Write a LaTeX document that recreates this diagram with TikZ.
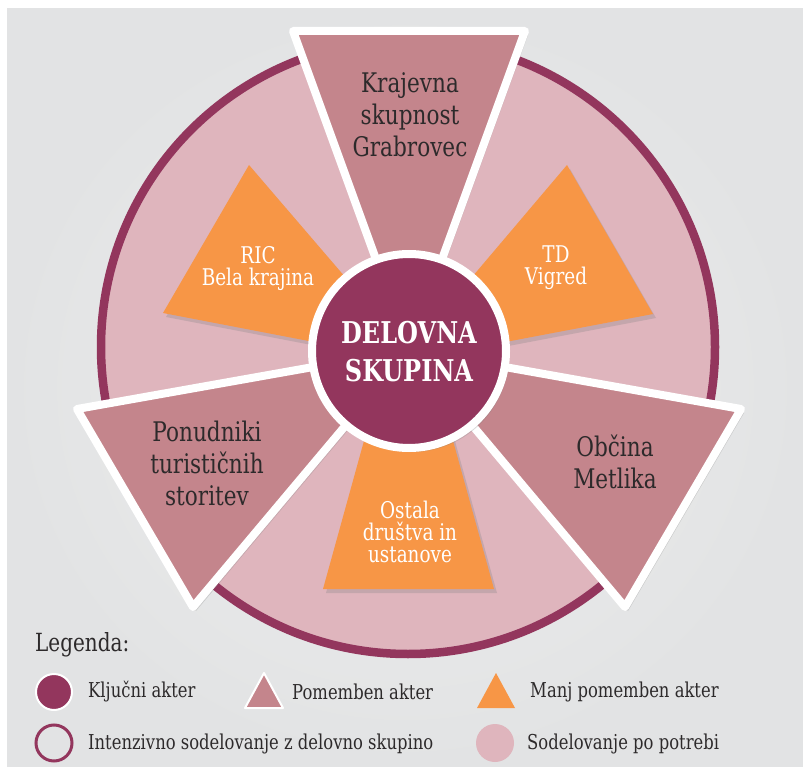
\documentclass[tikz,border=0pt]{standalone}
\usepackage{fontspec}
\setmainfont{DejaVu Serif}[FakeStretch=0.8]
\usetikzlibrary{shadows}
\definecolor{panelgray}{HTML}{E2E3E4}
\definecolor{panellight}{HTML}{EEEFEF}
\definecolor{keymaroon}{HTML}{93365D}
\definecolor{rosy}{HTML}{C4858C}
\definecolor{blush}{HTML}{DFB5BD}
\definecolor{tangerine}{HTML}{F79646}
\definecolor{ink}{HTML}{2D2A2B}
\tikzset{
  softshadow/.style={drop shadow={opacity=0.28, shadow xshift=3pt, shadow yshift=-4pt}},
  bigactor/.style={fill=rosy, draw=white, line width=8pt, line join=round, softshadow},
  smallactor/.style={fill=tangerine, draw=none, softshadow},
  bigtext/.style={font=\fontsize{27}{32}\selectfont, text=ink, align=center},
  smalltext/.style={font=\fontsize{23}{22}\selectfont, text=white, align=center},
  legendtext/.style={font=\fontsize{20.5}{24}\selectfont, text=ink, anchor=west},
}
\begin{document}
\begin{tikzpicture}[x=1pt,y=-1pt]
  \tikzstyle{every node}+=[inner sep=0pt]
  \useasboundingbox (0,0) rectangle (803,767);
  \fill [white] (0,0) rectangle (803,767);
  \shade [inner color=panellight, outer color=panelgray] (7,9) rectangle (803,767);
  % outer circle
  \draw [keymaroon, fill=blush, line width=8.5pt] (408,347) circle [radius=307pt];
  % less important actors
  \path [smallactor] (249,165) -- (163,313) -- (418,362) -- cycle;
  \path [smallactor] (567,165) -- (653,314) -- (400,362) -- cycle;
  \path [smallactor] (408.5,280) -- (494,589) -- (323,589) -- cycle;
  % important actors
  \draw [bigactor] (293,31) -- (525,31) -- (409,350) -- cycle;
  \draw [bigactor] (741,409) -- (625,607) -- (409,350) -- cycle;
  \draw [bigactor] (77,409) -- (193,607) -- (409,350) -- cycle;
  % key actor
  \draw [fill=keymaroon, draw=white, line width=8pt, softshadow] (409,351) circle [radius=97pt];
  \node (group) [font=\bfseries\fontsize{30}{38}\selectfont, text=white, align=center] at (409,352) {DELOVNA\\SKUPINA};
  \node (ks) [bigtext] at (410,115) {Krajevna\\skupnost\\Grabrovec};
  \node (providers) [bigtext] at (207,463) {Ponudniki\\turističnih\\storitev};
  \node (metlika) [bigtext] at (615,462) {Občina\\Metlika};
  \node (ric) [smalltext] at (258,269) {RIC\\Bela krajina};
  \node (td) [smalltext] at (556,268) {TD\\Vigred};
  \node (other) [smalltext] at (410,532) {Ostala\\društva in\\ustanove};
  % legend
  \node (legtitle) [legendtext, font=\fontsize{25}{28}\selectfont] at (35,645) {Legenda:};
  \draw [fill=keymaroon, draw=white, line width=2pt] (54,692) circle [radius=18pt];
  \node (keyone) [legendtext] at (88,692) {Ključni akter};
  \draw [fill=rosy, draw=white, line width=2pt, line join=round] (264,673) -- (283,708) -- (245,708) -- cycle;
  \node (keytwo) [legendtext] at (292,692) {Pomemben akter};
  \fill [tangerine] (496,673) -- (515,708) -- (477,708) -- cycle;
  \node (keythree) [legendtext] at (530,692) {Manj pomemben akter};
  \draw [keymaroon, line width=3pt] (54,743) circle [radius=18pt];
  \node (keyfour) [legendtext] at (88,744) {Intenzivno sodelovanje z delovno skupino};
  \fill [blush] (495,743) circle [radius=19pt];
  \node (keyfive) [legendtext] at (527,744) {Sodelovanje po potrebi};
\end{tikzpicture}
\end{document}
